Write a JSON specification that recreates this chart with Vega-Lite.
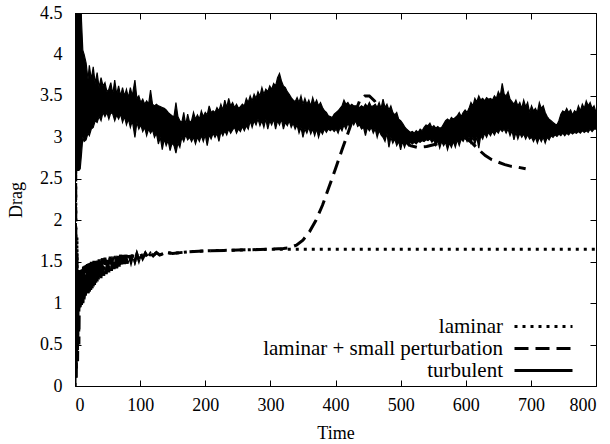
{
  "$schema": "https://vega.github.io/schema/vega-lite/v6.json",
  "width": 521,
  "height": 373,
  "autosize": {"type": "none"},
  "padding": {"left": 75, "top": 13, "right": 14, "bottom": 58},
  "background": "white",
  "config": {
    "font": "Liberation Serif",
    "view": {"stroke": "black", "strokeWidth": 1},
    "axis": {"domain": false, "grid": false, "tickColor": "black", "tickSize": -6, "tickWidth": 1,
      "labelFont": "Liberation Serif", "labelFontSize": 18, "labelColor": "black",
      "titleFont": "Liberation Serif", "titleFontSize": 18, "titleFontWeight": "normal", "titleColor": "black"},
    "legend": {"orient": "none", "legendX": 457, "legendY": 302, "title": null,
      "labelFont": "Liberation Serif", "labelFontSize": 21, "labelColor": "black", "labelAlign": "right",
      "labelOffset": -52, "labelLimit": 400, "symbolType": "M-2.9,0H2.9", "symbolSize": 400,
      "symbolStrokeWidth": 3, "symbolStrokeColor": "black", "symbolFillColor": "transparent", "rowPadding": 0}
  },
  "datasets": {
    "lines": [
      {"t":0,"D":0,"s":"laminar"},{"t":1,"D":2.7,"s":"laminar"},{"t":2,"D":0.2,"s":"laminar"},{"t":3,"D":1.8,"s":"laminar"},{"t":4,"D":0.6,"s":"laminar"},{"t":5,"D":1.4,"s":"laminar"},{"t":6,"D":0.9,"s":"laminar"},{"t":7,"D":1.38,"s":"laminar"},{"t":8,"D":0.95,"s":"laminar"},{"t":9,"D":1.4,"s":"laminar"},{"t":10,"D":0.97,"s":"laminar"},{"t":11,"D":1.42,"s":"laminar"},{"t":12,"D":1.0,"s":"laminar"},{"t":13,"D":1.44,"s":"laminar"},{"t":14,"D":1.04,"s":"laminar"},{"t":15,"D":1.45,"s":"laminar"},{"t":16,"D":1.07,"s":"laminar"},{"t":17,"D":1.46,"s":"laminar"},{"t":18,"D":1.1,"s":"laminar"},{"t":19,"D":1.47,"s":"laminar"},{"t":20,"D":1.12,"s":"laminar"},{"t":21,"D":1.48,"s":"laminar"},{"t":22,"D":1.14,"s":"laminar"},{"t":23,"D":1.49,"s":"laminar"},{"t":24,"D":1.16,"s":"laminar"},{"t":25,"D":1.5,"s":"laminar"},{"t":26,"D":1.18,"s":"laminar"},{"t":27,"D":1.5,"s":"laminar"},{"t":28,"D":1.2,"s":"laminar"},{"t":29,"D":1.51,"s":"laminar"},{"t":30,"D":1.22,"s":"laminar"},{"t":31,"D":1.51,"s":"laminar"},{"t":32,"D":1.24,"s":"laminar"},{"t":33,"D":1.52,"s":"laminar"},{"t":34,"D":1.26,"s":"laminar"},{"t":35,"D":1.52,"s":"laminar"},{"t":36,"D":1.27,"s":"laminar"},{"t":37,"D":1.53,"s":"laminar"},{"t":38,"D":1.29,"s":"laminar"},{"t":39,"D":1.53,"s":"laminar"},{"t":40,"D":1.3,"s":"laminar"},{"t":42,"D":1.54,"s":"laminar"},{"t":44,"D":1.33,"s":"laminar"},{"t":46,"D":1.55,"s":"laminar"},{"t":48,"D":1.35,"s":"laminar"},{"t":50,"D":1.55,"s":"laminar"},{"t":52,"D":1.37,"s":"laminar"},{"t":54,"D":1.56,"s":"laminar"},{"t":56,"D":1.39,"s":"laminar"},{"t":58,"D":1.56,"s":"laminar"},{"t":60,"D":1.41,"s":"laminar"},{"t":62,"D":1.57,"s":"laminar"},{"t":64,"D":1.42,"s":"laminar"},{"t":66,"D":1.57,"s":"laminar"},{"t":68,"D":1.44,"s":"laminar"},{"t":70,"D":1.58,"s":"laminar"},{"t":72,"D":1.45,"s":"laminar"},{"t":74,"D":1.58,"s":"laminar"},{"t":76,"D":1.47,"s":"laminar"},{"t":78,"D":1.58,"s":"laminar"},{"t":80,"D":1.48,"s":"laminar"},{"t":83,"D":1.59,"s":"laminar"},{"t":86,"D":1.5,"s":"laminar"},{"t":89,"D":1.59,"s":"laminar"},{"t":92,"D":1.51,"s":"laminar"},{"t":95,"D":1.59,"s":"laminar"},{"t":98,"D":1.52,"s":"laminar"},{"t":101,"D":1.6,"s":"laminar"},{"t":104,"D":1.54,"s":"laminar"},{"t":108,"D":1.6,"s":"laminar"},{"t":112,"D":1.55,"s":"laminar"},{"t":116,"D":1.6,"s":"laminar"},{"t":120,"D":1.57,"s":"laminar"},{"t":125,"D":1.61,"s":"laminar"},{"t":130,"D":1.58,"s":"laminar"},{"t":140,"D":1.61,"s":"laminar"},{"t":150,"D":1.6,"s":"laminar"},{"t":175,"D":1.62,"s":"laminar"},{"t":200,"D":1.63,"s":"laminar"},{"t":250,"D":1.64,"s":"laminar"},{"t":300,"D":1.65,"s":"laminar"},{"t":400,"D":1.65,"s":"laminar"},{"t":500,"D":1.65,"s":"laminar"},{"t":600,"D":1.65,"s":"laminar"},{"t":700,"D":1.65,"s":"laminar"},{"t":800,"D":1.65,"s":"laminar"},
      {"t":0,"D":0,"s":"laminar + small perturbation"},{"t":1,"D":2.6,"s":"laminar + small perturbation"},{"t":2,"D":0.1,"s":"laminar + small perturbation"},{"t":3,"D":1.6,"s":"laminar + small perturbation"},{"t":4,"D":0.3,"s":"laminar + small perturbation"},{"t":5,"D":1.3,"s":"laminar + small perturbation"},{"t":6,"D":0.5,"s":"laminar + small perturbation"},{"t":7,"D":1.38,"s":"laminar + small perturbation"},{"t":8,"D":0.95,"s":"laminar + small perturbation"},{"t":9,"D":1.4,"s":"laminar + small perturbation"},{"t":10,"D":0.97,"s":"laminar + small perturbation"},{"t":11,"D":1.42,"s":"laminar + small perturbation"},{"t":12,"D":1.0,"s":"laminar + small perturbation"},{"t":13,"D":1.44,"s":"laminar + small perturbation"},{"t":14,"D":1.04,"s":"laminar + small perturbation"},{"t":15,"D":1.45,"s":"laminar + small perturbation"},{"t":16,"D":1.07,"s":"laminar + small perturbation"},{"t":17,"D":1.46,"s":"laminar + small perturbation"},{"t":18,"D":1.1,"s":"laminar + small perturbation"},{"t":19,"D":1.47,"s":"laminar + small perturbation"},{"t":20,"D":1.12,"s":"laminar + small perturbation"},{"t":21,"D":1.48,"s":"laminar + small perturbation"},{"t":22,"D":1.14,"s":"laminar + small perturbation"},{"t":23,"D":1.49,"s":"laminar + small perturbation"},{"t":24,"D":1.16,"s":"laminar + small perturbation"},{"t":25,"D":1.5,"s":"laminar + small perturbation"},{"t":26,"D":1.18,"s":"laminar + small perturbation"},{"t":27,"D":1.5,"s":"laminar + small perturbation"},{"t":28,"D":1.2,"s":"laminar + small perturbation"},{"t":29,"D":1.51,"s":"laminar + small perturbation"},{"t":30,"D":1.22,"s":"laminar + small perturbation"},{"t":31,"D":1.51,"s":"laminar + small perturbation"},{"t":32,"D":1.24,"s":"laminar + small perturbation"},{"t":33,"D":1.52,"s":"laminar + small perturbation"},{"t":34,"D":1.26,"s":"laminar + small perturbation"},{"t":35,"D":1.52,"s":"laminar + small perturbation"},{"t":36,"D":1.27,"s":"laminar + small perturbation"},{"t":37,"D":1.53,"s":"laminar + small perturbation"},{"t":38,"D":1.29,"s":"laminar + small perturbation"},{"t":39,"D":1.53,"s":"laminar + small perturbation"},{"t":40,"D":1.3,"s":"laminar + small perturbation"},{"t":42,"D":1.54,"s":"laminar + small perturbation"},{"t":44,"D":1.33,"s":"laminar + small perturbation"},{"t":46,"D":1.55,"s":"laminar + small perturbation"},{"t":48,"D":1.35,"s":"laminar + small perturbation"},{"t":50,"D":1.55,"s":"laminar + small perturbation"},{"t":52,"D":1.37,"s":"laminar + small perturbation"},{"t":54,"D":1.56,"s":"laminar + small perturbation"},{"t":56,"D":1.39,"s":"laminar + small perturbation"},{"t":58,"D":1.56,"s":"laminar + small perturbation"},{"t":60,"D":1.41,"s":"laminar + small perturbation"},{"t":62,"D":1.57,"s":"laminar + small perturbation"},{"t":64,"D":1.42,"s":"laminar + small perturbation"},{"t":66,"D":1.57,"s":"laminar + small perturbation"},{"t":68,"D":1.44,"s":"laminar + small perturbation"},{"t":70,"D":1.58,"s":"laminar + small perturbation"},{"t":72,"D":1.45,"s":"laminar + small perturbation"},{"t":74,"D":1.58,"s":"laminar + small perturbation"},{"t":76,"D":1.47,"s":"laminar + small perturbation"},{"t":78,"D":1.58,"s":"laminar + small perturbation"},{"t":80,"D":1.48,"s":"laminar + small perturbation"},{"t":83,"D":1.59,"s":"laminar + small perturbation"},{"t":86,"D":1.5,"s":"laminar + small perturbation"},{"t":89,"D":1.59,"s":"laminar + small perturbation"},{"t":92,"D":1.51,"s":"laminar + small perturbation"},{"t":95,"D":1.59,"s":"laminar + small perturbation"},{"t":98,"D":1.52,"s":"laminar + small perturbation"},{"t":101,"D":1.6,"s":"laminar + small perturbation"},{"t":104,"D":1.54,"s":"laminar + small perturbation"},{"t":108,"D":1.6,"s":"laminar + small perturbation"},{"t":112,"D":1.55,"s":"laminar + small perturbation"},{"t":116,"D":1.6,"s":"laminar + small perturbation"},{"t":120,"D":1.57,"s":"laminar + small perturbation"},{"t":125,"D":1.61,"s":"laminar + small perturbation"},{"t":130,"D":1.58,"s":"laminar + small perturbation"},{"t":140,"D":1.61,"s":"laminar + small perturbation"},{"t":150,"D":1.6,"s":"laminar + small perturbation"},{"t":175,"D":1.62,"s":"laminar + small perturbation"},{"t":200,"D":1.63,"s":"laminar + small perturbation"},{"t":250,"D":1.64,"s":"laminar + small perturbation"},{"t":300,"D":1.65,"s":"laminar + small perturbation"},{"t":320,"D":1.66,"s":"laminar + small perturbation"},{"t":330,"D":1.67,"s":"laminar + small perturbation"},{"t":340,"D":1.7,"s":"laminar + small perturbation"},{"t":350,"D":1.76,"s":"laminar + small perturbation"},{"t":360,"D":1.86,"s":"laminar + small perturbation"},{"t":370,"D":2.0,"s":"laminar + small perturbation"},{"t":380,"D":2.18,"s":"laminar + small perturbation"},{"t":390,"D":2.4,"s":"laminar + small perturbation"},{"t":400,"D":2.62,"s":"laminar + small perturbation"},{"t":410,"D":2.85,"s":"laminar + small perturbation"},{"t":420,"D":3.07,"s":"laminar + small perturbation"},{"t":430,"D":3.3,"s":"laminar + small perturbation"},{"t":437,"D":3.44,"s":"laminar + small perturbation"},{"t":445,"D":3.5,"s":"laminar + small perturbation"},{"t":452,"D":3.5,"s":"laminar + small perturbation"},{"t":460,"D":3.44,"s":"laminar + small perturbation"},{"t":468,"D":3.35,"s":"laminar + small perturbation"},{"t":475,"D":3.25,"s":"laminar + small perturbation"},{"t":485,"D":3.15,"s":"laminar + small perturbation"},{"t":495,"D":3.05,"s":"laminar + small perturbation"},{"t":505,"D":2.96,"s":"laminar + small perturbation"},{"t":515,"D":2.9,"s":"laminar + small perturbation"},{"t":525,"D":2.88,"s":"laminar + small perturbation"},{"t":540,"D":2.89,"s":"laminar + small perturbation"},{"t":560,"D":2.93,"s":"laminar + small perturbation"},{"t":580,"D":2.97,"s":"laminar + small perturbation"},{"t":600,"D":2.99,"s":"laminar + small perturbation"},{"t":610,"D":2.93,"s":"laminar + small perturbation"},{"t":620,"D":2.85,"s":"laminar + small perturbation"},{"t":630,"D":2.78,"s":"laminar + small perturbation"},{"t":640,"D":2.73,"s":"laminar + small perturbation"},{"t":650,"D":2.7,"s":"laminar + small perturbation"},{"t":660,"D":2.67,"s":"laminar + small perturbation"},{"t":670,"D":2.65,"s":"laminar + small perturbation"},{"t":680,"D":2.64,"s":"laminar + small perturbation"},{"t":692,"D":2.62,"s":"laminar + small perturbation"}
    ],
    "turb": [
      {"t":0,"lo":2.6,"hi":5},{"t":2,"lo":2.6,"hi":5},{"t":4,"lo":2.6,"hi":5},{"t":6,"lo":2.6,"hi":5},{"t":8,"lo":2.62,"hi":5},{"t":10,"lo":2.8,"hi":4.4},{"t":12,"lo":3.0,"hi":4.05},{"t":14,"lo":2.95,"hi":4.0},{"t":17,"lo":2.97,"hi":3.9},{"t":20,"lo":3.05,"hi":3.7},{"t":22,"lo":3.02,"hi":3.87},{"t":25,"lo":3.1,"hi":3.7},{"t":28,"lo":3.12,"hi":3.85},{"t":31,"lo":3.2,"hi":3.65},{"t":34,"lo":3.18,"hi":3.78},{"t":37,"lo":3.25,"hi":3.6},{"t":40,"lo":3.2,"hi":3.72},{"t":43,"lo":3.3,"hi":3.62},{"t":46,"lo":3.25,"hi":3.66},{"t":49,"lo":3.3,"hi":3.55},{"t":52,"lo":3.22,"hi":3.58},{"t":55,"lo":3.3,"hi":3.66},{"t":58,"lo":3.28,"hi":3.52},{"t":61,"lo":3.2,"hi":3.69},{"t":64,"lo":3.27,"hi":3.52},{"t":67,"lo":3.22,"hi":3.62},{"t":70,"lo":3.28,"hi":3.5},{"t":73,"lo":3.18,"hi":3.6},{"t":76,"lo":3.25,"hi":3.5},{"t":79,"lo":3.15,"hi":3.58},{"t":82,"lo":3.22,"hi":3.48},{"t":85,"lo":3.12,"hi":3.6},{"t":88,"lo":3.2,"hi":3.5},{"t":92,"lo":3.0,"hi":3.69},{"t":95,"lo":3.18,"hi":3.47},{"t":98,"lo":3.1,"hi":3.5},{"t":101,"lo":3.15,"hi":3.42},{"t":104,"lo":3.07,"hi":3.46},{"t":107,"lo":3.12,"hi":3.4},{"t":110,"lo":3.02,"hi":3.44},{"t":113,"lo":3.1,"hi":3.4},{"t":116,"lo":3.05,"hi":3.57},{"t":119,"lo":3.09,"hi":3.4},{"t":122,"lo":3.0,"hi":3.38},{"t":125,"lo":3.05,"hi":3.4},{"t":128,"lo":2.92,"hi":3.38},{"t":131,"lo":3.0,"hi":3.37},{"t":134,"lo":2.85,"hi":3.36},{"t":137,"lo":2.98,"hi":3.35},{"t":140,"lo":2.9,"hi":3.33},{"t":143,"lo":2.96,"hi":3.3},{"t":146,"lo":2.84,"hi":3.28},{"t":149,"lo":2.93,"hi":3.26},{"t":152,"lo":2.9,"hi":3.25},{"t":155,"lo":2.81,"hi":3.42},{"t":158,"lo":2.93,"hi":3.25},{"t":161,"lo":2.88,"hi":3.2},{"t":164,"lo":3.0,"hi":3.18},{"t":167,"lo":2.95,"hi":3.3},{"t":170,"lo":3.03,"hi":3.15},{"t":173,"lo":2.97,"hi":3.28},{"t":176,"lo":3.0,"hi":3.18},{"t":179,"lo":2.95,"hi":3.2},{"t":182,"lo":3.0,"hi":3.3},{"t":185,"lo":2.92,"hi":3.22},{"t":188,"lo":3.0,"hi":3.27},{"t":191,"lo":2.95,"hi":3.22},{"t":194,"lo":3.02,"hi":3.32},{"t":197,"lo":2.95,"hi":3.25},{"t":200,"lo":3.03,"hi":3.3},{"t":203,"lo":2.9,"hi":3.27},{"t":206,"lo":3.03,"hi":3.38},{"t":209,"lo":2.98,"hi":3.3},{"t":212,"lo":3.05,"hi":3.32},{"t":215,"lo":3.0,"hi":3.3},{"t":218,"lo":3.05,"hi":3.36},{"t":221,"lo":2.95,"hi":3.32},{"t":224,"lo":3.07,"hi":3.4},{"t":227,"lo":3.02,"hi":3.33},{"t":230,"lo":3.08,"hi":3.45},{"t":233,"lo":3.03,"hi":3.36},{"t":236,"lo":3.1,"hi":3.47},{"t":239,"lo":3.05,"hi":3.38},{"t":242,"lo":3.09,"hi":3.42},{"t":245,"lo":3.12,"hi":3.36},{"t":248,"lo":3.05,"hi":3.4},{"t":251,"lo":3.1,"hi":3.35},{"t":254,"lo":3.07,"hi":3.37},{"t":257,"lo":3.13,"hi":3.4},{"t":260,"lo":3.08,"hi":3.38},{"t":263,"lo":3.14,"hi":3.47},{"t":266,"lo":3.1,"hi":3.42},{"t":269,"lo":3.2,"hi":3.5},{"t":272,"lo":3.12,"hi":3.44},{"t":275,"lo":3.2,"hi":3.52},{"t":278,"lo":3.15,"hi":3.47},{"t":281,"lo":3.22,"hi":3.55},{"t":284,"lo":3.14,"hi":3.5},{"t":287,"lo":3.2,"hi":3.6},{"t":290,"lo":3.12,"hi":3.52},{"t":293,"lo":3.22,"hi":3.58},{"t":296,"lo":3.1,"hi":3.55},{"t":299,"lo":3.2,"hi":3.62},{"t":302,"lo":3.15,"hi":3.58},{"t":305,"lo":3.22,"hi":3.65},{"t":308,"lo":3.1,"hi":3.62},{"t":311,"lo":3.2,"hi":3.72},{"t":314,"lo":3.15,"hi":3.77},{"t":317,"lo":3.22,"hi":3.68},{"t":320,"lo":3.1,"hi":3.62},{"t":323,"lo":3.18,"hi":3.6},{"t":326,"lo":3.14,"hi":3.55},{"t":329,"lo":3.2,"hi":3.52},{"t":332,"lo":3.12,"hi":3.48},{"t":335,"lo":3.17,"hi":3.45},{"t":338,"lo":3.1,"hi":3.43},{"t":341,"lo":3.15,"hi":3.48},{"t":344,"lo":3.05,"hi":3.42},{"t":347,"lo":3.12,"hi":3.5},{"t":350,"lo":3.0,"hi":3.4},{"t":353,"lo":3.1,"hi":3.47},{"t":356,"lo":3.05,"hi":3.4},{"t":359,"lo":3.12,"hi":3.45},{"t":362,"lo":3.04,"hi":3.38},{"t":365,"lo":3.1,"hi":3.48},{"t":368,"lo":3.02,"hi":3.4},{"t":371,"lo":3.1,"hi":3.45},{"t":374,"lo":3.0,"hi":3.38},{"t":377,"lo":3.08,"hi":3.42},{"t":380,"lo":3.04,"hi":3.36},{"t":383,"lo":3.1,"hi":3.32},{"t":386,"lo":3.06,"hi":3.3},{"t":389,"lo":3.1,"hi":3.26},{"t":392,"lo":3.08,"hi":3.25},{"t":395,"lo":3.1,"hi":3.24},{"t":398,"lo":3.07,"hi":3.28},{"t":401,"lo":3.1,"hi":3.3},{"t":404,"lo":3.05,"hi":3.32},{"t":407,"lo":3.12,"hi":3.35},{"t":410,"lo":3.08,"hi":3.38},{"t":413,"lo":3.15,"hi":3.45},{"t":416,"lo":3.1,"hi":3.4},{"t":419,"lo":3.17,"hi":3.42},{"t":422,"lo":3.12,"hi":3.38},{"t":425,"lo":3.2,"hi":3.4},{"t":428,"lo":3.15,"hi":3.38},{"t":431,"lo":3.2,"hi":3.38},{"t":434,"lo":3.13,"hi":3.37},{"t":437,"lo":3.15,"hi":3.36},{"t":440,"lo":3.1,"hi":3.38},{"t":443,"lo":3.12,"hi":3.36},{"t":446,"lo":3.02,"hi":3.4},{"t":449,"lo":3.12,"hi":3.37},{"t":452,"lo":3.08,"hi":3.42},{"t":455,"lo":3.12,"hi":3.37},{"t":458,"lo":3.05,"hi":3.38},{"t":461,"lo":3.1,"hi":3.4},{"t":464,"lo":3.0,"hi":3.36},{"t":467,"lo":3.08,"hi":3.42},{"t":470,"lo":3.03,"hi":3.35},{"t":473,"lo":3.0,"hi":3.46},{"t":476,"lo":2.95,"hi":3.36},{"t":479,"lo":3.05,"hi":3.4},{"t":482,"lo":2.88,"hi":3.33},{"t":485,"lo":3.0,"hi":3.38},{"t":488,"lo":2.93,"hi":3.3},{"t":491,"lo":2.98,"hi":3.27},{"t":494,"lo":2.9,"hi":3.3},{"t":497,"lo":2.95,"hi":3.22},{"t":500,"lo":2.85,"hi":3.2},{"t":503,"lo":2.95,"hi":3.17},{"t":506,"lo":2.88,"hi":3.13},{"t":509,"lo":2.95,"hi":3.1},{"t":512,"lo":2.9,"hi":3.08},{"t":515,"lo":2.94,"hi":3.06},{"t":518,"lo":2.92,"hi":3.07},{"t":521,"lo":2.94,"hi":3.05},{"t":524,"lo":2.92,"hi":3.08},{"t":527,"lo":2.95,"hi":3.06},{"t":530,"lo":2.94,"hi":3.1},{"t":533,"lo":2.96,"hi":3.08},{"t":536,"lo":2.95,"hi":3.12},{"t":539,"lo":2.97,"hi":3.15},{"t":542,"lo":2.96,"hi":3.14},{"t":545,"lo":2.98,"hi":3.17},{"t":548,"lo":2.94,"hi":3.12},{"t":551,"lo":2.97,"hi":3.14},{"t":554,"lo":2.9,"hi":3.11},{"t":557,"lo":2.96,"hi":3.13},{"t":560,"lo":2.87,"hi":3.11},{"t":563,"lo":2.95,"hi":3.12},{"t":566,"lo":2.9,"hi":3.16},{"t":569,"lo":2.94,"hi":3.2},{"t":572,"lo":2.85,"hi":3.22},{"t":575,"lo":2.93,"hi":3.2},{"t":578,"lo":2.88,"hi":3.24},{"t":581,"lo":2.95,"hi":3.22},{"t":584,"lo":2.88,"hi":3.24},{"t":587,"lo":2.97,"hi":3.26},{"t":590,"lo":2.9,"hi":3.3},{"t":593,"lo":2.98,"hi":3.25},{"t":596,"lo":2.95,"hi":3.3},{"t":599,"lo":3.0,"hi":3.33},{"t":602,"lo":2.95,"hi":3.3},{"t":605,"lo":3.0,"hi":3.35},{"t":608,"lo":2.93,"hi":3.42},{"t":611,"lo":3.0,"hi":3.38},{"t":614,"lo":2.92,"hi":3.47},{"t":617,"lo":3.0,"hi":3.43},{"t":620,"lo":2.87,"hi":3.5},{"t":623,"lo":3.02,"hi":3.45},{"t":626,"lo":2.98,"hi":3.47},{"t":629,"lo":3.05,"hi":3.44},{"t":632,"lo":3.0,"hi":3.48},{"t":635,"lo":3.06,"hi":3.46},{"t":638,"lo":3.02,"hi":3.47},{"t":641,"lo":3.07,"hi":3.45},{"t":644,"lo":3.03,"hi":3.5},{"t":647,"lo":3.08,"hi":3.47},{"t":650,"lo":3.05,"hi":3.55},{"t":653,"lo":3.1,"hi":3.5},{"t":656,"lo":3.07,"hi":3.65},{"t":659,"lo":3.1,"hi":3.52},{"t":662,"lo":3.05,"hi":3.5},{"t":665,"lo":3.1,"hi":3.55},{"t":668,"lo":3.02,"hi":3.46},{"t":671,"lo":3.08,"hi":3.43},{"t":674,"lo":2.97,"hi":3.4},{"t":677,"lo":3.06,"hi":3.45},{"t":680,"lo":2.98,"hi":3.38},{"t":683,"lo":3.05,"hi":3.42},{"t":686,"lo":3.0,"hi":3.35},{"t":689,"lo":3.04,"hi":3.45},{"t":692,"lo":2.98,"hi":3.37},{"t":695,"lo":3.03,"hi":3.42},{"t":698,"lo":2.98,"hi":3.3},{"t":701,"lo":3.0,"hi":3.38},{"t":704,"lo":2.95,"hi":3.32},{"t":707,"lo":3.0,"hi":3.35},{"t":710,"lo":2.93,"hi":3.3},{"t":713,"lo":3.0,"hi":3.42},{"t":716,"lo":2.95,"hi":3.35},{"t":719,"lo":3.0,"hi":3.38},{"t":722,"lo":2.93,"hi":3.3},{"t":725,"lo":3.0,"hi":3.25},{"t":728,"lo":2.97,"hi":3.22},{"t":731,"lo":3.02,"hi":3.2},{"t":734,"lo":3.0,"hi":3.18},{"t":737,"lo":3.03,"hi":3.16},{"t":740,"lo":3.01,"hi":3.15},{"t":743,"lo":3.04,"hi":3.2},{"t":746,"lo":3.02,"hi":3.28},{"t":749,"lo":3.05,"hi":3.32},{"t":752,"lo":3.02,"hi":3.3},{"t":755,"lo":3.05,"hi":3.35},{"t":758,"lo":3.03,"hi":3.3},{"t":761,"lo":3.06,"hi":3.33},{"t":764,"lo":3.04,"hi":3.27},{"t":767,"lo":3.06,"hi":3.32},{"t":770,"lo":3.05,"hi":3.3},{"t":773,"lo":3.07,"hi":3.38},{"t":776,"lo":3.05,"hi":3.32},{"t":779,"lo":3.08,"hi":3.4},{"t":782,"lo":3.06,"hi":3.35},{"t":785,"lo":3.08,"hi":3.44},{"t":788,"lo":3.06,"hi":3.38},{"t":791,"lo":3.1,"hi":3.42},{"t":794,"lo":3.07,"hi":3.35},{"t":797,"lo":3.1,"hi":3.38},{"t":800,"lo":3.1,"hi":3.3}
    ]
  },
  "layer": [
    {
      "data": {"name": "turb"},
      "mark": {"type": "area", "color": "black", "clip": true, "stroke": "black", "strokeWidth": 1.2},
      "encoding": {
        "x": {"field": "t", "type": "quantitative", "scale": {"domain": [0, 800], "nice": false},
          "axis": {"values": [0,100,200,300,400,500,600,700,800], "title": "Time", "labelPadding": 16, "titlePadding": 10}},
        "y": {"field": "hi", "type": "quantitative", "scale": {"domain": [0, 4.5], "nice": false},
          "axis": {"values": [0,0.5,1,1.5,2,2.5,3,3.5,4,4.5], "format": "~g", "title": "Drag", "labelPadding": 19, "titlePadding": 14}},
        "y2": {"field": "lo"}
      }
    },
    {
      "data": {"name": "lines"},
      "mark": {"type": "line", "color": "black", "strokeWidth": 3, "strokeCap": "butt", "clip": true},
      "encoding": {
        "x": {"field": "t", "type": "quantitative",
          "axis": {"orient": "top", "labels": false, "title": null, "values": [0,100,200,300,400,500,600,700,800]}},
        "y": {"field": "D", "type": "quantitative",
          "axis": {"orient": "right", "labels": false, "title": null, "values": [0,0.5,1,1.5,2,2.5,3,3.5,4,4.5]}},
        "strokeDash": {"field": "s", "type": "nominal",
          "scale": {"domain": ["laminar", "laminar + small perturbation", "turbulent"], "range": [[3,5],[14,7],[1,0]]}}
      }
    }
  ],
  "resolve": {"axis": {"x": "independent", "y": "independent"}}
}
